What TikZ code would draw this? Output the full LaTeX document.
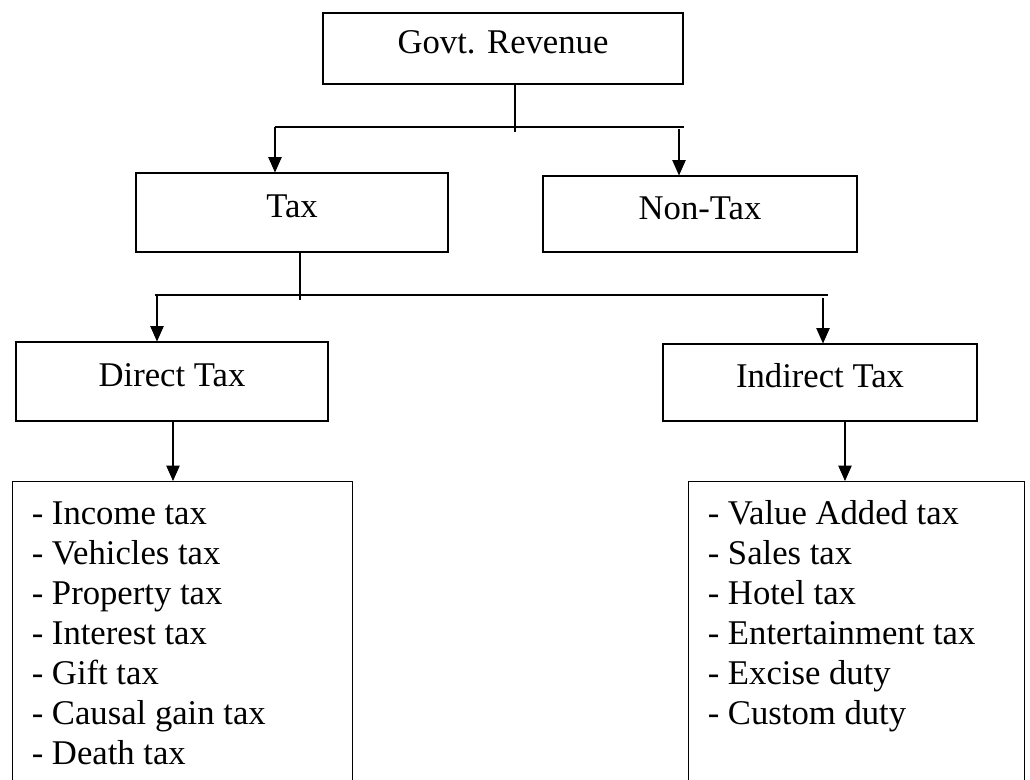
\documentclass[tikz,border=0pt]{standalone}
\usepackage{fontspec}
\setmainfont{Liberation Serif}
\usetikzlibrary{arrows.meta}

\tikzset{
  box/.style={draw, line width=0.8pt, inner sep=0pt, text height=17.5pt, text depth=10pt,
    font=\fontsize{26}{30}\selectfont},
  listbox/.style={draw, line width=0.8pt, anchor=north west, inner sep=0pt},
  item/.style={anchor=base west, inner sep=0pt, font=\fontsize{26}{30}\selectfont},
  conn/.style={line width=0.8pt},
  arr/.style={conn, -{Triangle[width=10pt,length=11.5pt]}}
}

\begin{document}
\begin{tikzpicture}[x=0.75pt, y=-0.75pt]
  \path[use as bounding box] (0,0) rectangle (1030,779);
  \clip (0,0) rectangle (1030,779);

  % boxes
  \node[box, minimum width=270pt, minimum height=53.25pt] (gov) at (503,48.5) {Govt. Revenue};
  \node[box, minimum width=234pt, minimum height=59.25pt] (tax) at (292,212.5) {Tax};
  \node[box, minimum width=235.5pt, minimum height=57pt] (ntax) at (700,214) {Non-Tax};
  \node[box, minimum width=234pt, minimum height=59.25pt] (dtax) at (172,381.5) {Direct Tax};
  \node[box, minimum width=235.5pt, minimum height=57.75pt] (itax) at (820,382.5) {Indirect Tax};

  \node[listbox, minimum width=255pt, minimum height=240pt] (dlist) at (12,481) {};
  \node[listbox, minimum width=252pt, minimum height=240pt] (ilist) at (688,481) {};

  \foreach \name [count=\i from 0] in {Income tax, Vehicles tax, Property tax, Interest tax,
      Gift tax, Causal gain tax, Death tax}{
    \node[item] (d\i) at (31.5,{524+40*\i}) {- \name};
  };
  \foreach \name [count=\i from 0] in {Value Added tax, Sales tax, Hotel tax,
      Entertainment tax, Excise duty, Custom duty}{
    \node[item] (i\i) at (707.5,{524+40*\i}) {- \name};
  };

  % first split
  \coordinate (g1) at (515,132);
  \coordinate (h1l) at (275,127);
  \coordinate (h1r) at (684,127);
  \coordinate (h1n) at (679,129);
  \draw[conn] (g1 |- gov.south) -- (g1);
  \draw[conn] (h1l) -- (h1r);
  \draw[arr] (h1l) -- (h1l |- tax.north);
  \draw[arr] (h1n) -- (h1n |- ntax.north);

  % second split
  \coordinate (t1) at (300,300);
  \coordinate (h2l) at (155,295);
  \coordinate (h2r) at (828,295);
  \coordinate (h2a) at (157,295);
  \coordinate (h2b) at (823,298);
  \draw[conn] (t1 |- tax.south) -- (t1);
  \draw[conn] (h2l) -- (h2r);
  \draw[arr] (h2a) -- (h2a |- dtax.north);
  \draw[arr] (h2b) -- (h2b |- itax.north);

  % lists
  \coordinate (d1) at (173,0);
  \coordinate (i1) at (845,0);
  \draw[arr] (d1 |- dtax.south) -- (d1 |- dlist.north);
  \draw[arr] (i1 |- itax.south) -- (i1 |- ilist.north);
\end{tikzpicture}
\end{document}
